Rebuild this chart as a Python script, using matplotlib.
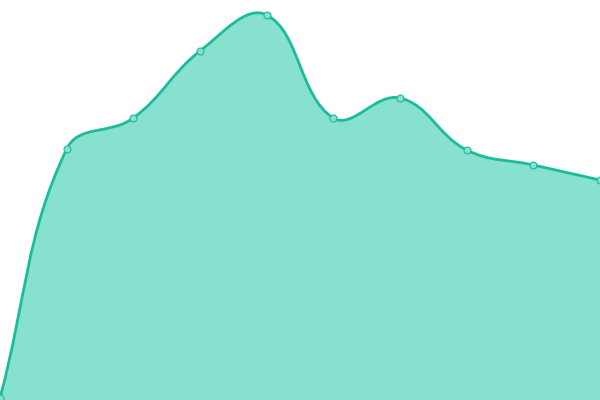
import numpy as np
import matplotlib
matplotlib.use("Agg")
import matplotlib.pyplot as plt
from matplotlib.path import Path
from matplotlib.patches import PathPatch

# data (no axes shown)
labels = list(range(10))
values = [2, 251, 282, 349, 385, 282, 302, 250, 235, 220]

line_color = "#1abc9c"
fill_color = "#88e0ce"
tension = 0.4

W, H = 600, 400
x_max = len(labels) - 1
y_max = 400


def spline_controls(px, py, t):
    # cardinal spline control points, like chart.js does it
    n = len(px)
    cps = []
    for i in range(n):
        p0 = (px[max(i - 1, 0)], py[max(i - 1, 0)])
        p1 = (px[i], py[i])
        p2 = (px[min(i + 1, n - 1)], py[min(i + 1, n - 1)])
        d01 = np.hypot(p1[0] - p0[0], p1[1] - p0[1])
        d12 = np.hypot(p2[0] - p1[0], p2[1] - p1[1])
        s01 = d01 / (d01 + d12) if d01 + d12 else 0
        s12 = d12 / (d01 + d12) if d01 + d12 else 0
        fa = t * s01
        fb = t * s12
        prev_cp = (p1[0] - fa * (p2[0] - p0[0]), p1[1] - fa * (p2[1] - p0[1]))
        next_cp = (p1[0] + fb * (p2[0] - p0[0]), p1[1] + fb * (p2[1] - p0[1]))
        cps.append((prev_cp, next_cp))
    return cps


# work in pixel-scaled units so the tension behaves like in the browser
sx = W / x_max
sy = H / y_max
px = [x * sx for x in labels]
py = [v * sy for v in values]
cps = spline_controls(px, py, tension)

verts = [(px[0] / sx, py[0] / sy)]
codes = [Path.MOVETO]
for i in range(len(px) - 1):
    c1 = cps[i][1]
    c2 = cps[i + 1][0]
    c1 = (c1[0], min(max(c1[1], 0), H))
    c2 = (c2[0], min(max(c2[1], 0), H))
    verts += [(c1[0] / sx, c1[1] / sy), (c2[0] / sx, c2[1] / sy), (px[i + 1] / sx, py[i + 1] / sy)]
    codes += [Path.CURVE4] * 3

fill_verts = verts + [(labels[-1], 0), (labels[0], 0), verts[0]]
fill_codes = codes + [Path.LINETO, Path.LINETO, Path.CLOSEPOLY]

fig = plt.figure(figsize=(6, 4), dpi=100)
ax = fig.add_axes([0, 0, 1, 1])
ax.add_patch(PathPatch(Path(fill_verts, fill_codes), facecolor=fill_color, edgecolor="none"))
ax.add_patch(PathPatch(Path(verts, codes), facecolor="none", edgecolor=line_color, linewidth=2.0, capstyle="round"))
ax.plot(labels, values, linestyle="none", marker="o", markersize=5,
        markerfacecolor=fill_color, markeredgecolor=line_color, markeredgewidth=0.8, clip_on=False, zorder=5)
ax.set_xlim(0, x_max)
ax.set_ylim(0, y_max)
ax.axis("off")
fig.savefig("out.png", dpi=100)
